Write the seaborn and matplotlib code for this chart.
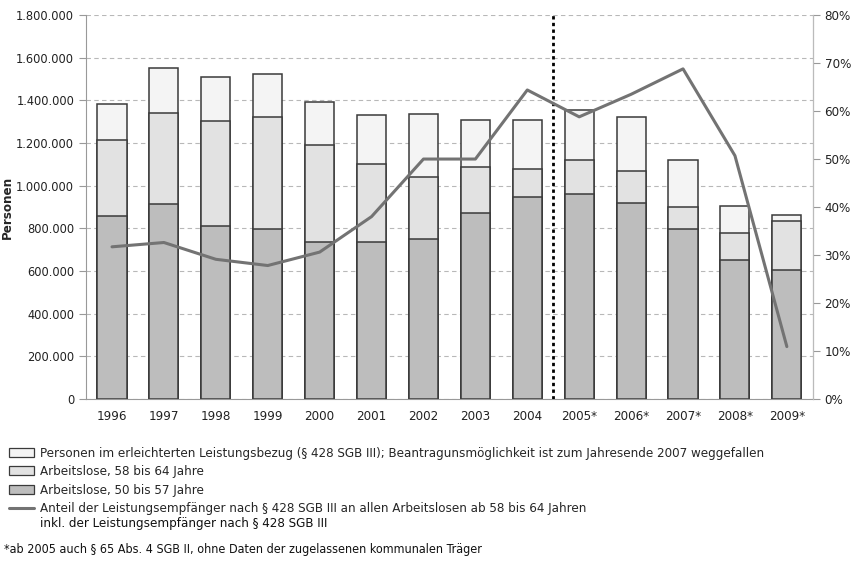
import numpy as np
import pandas as pd
import matplotlib
matplotlib.use("Agg")
import matplotlib.pyplot as plt
from matplotlib.patches import Patch
from matplotlib.lines import Line2D
from matplotlib.ticker import FuncFormatter, FixedLocator
import seaborn as sns

# data
years = ['1996', '1997', '1998', '1999', '2000', '2001', '2002', '2003', '2004',
         '2005*', '2006*', '2007*', '2008*', '2009*']
arbeitslose_50_57 = [859000, 912000, 809000, 796000, 737000, 735000, 749000,
                     870000, 949000, 959000, 921000, 795000, 651000, 606000]
arbeitslose_58_64 = [357000, 429000, 496000, 525000, 454000, 369000, 294000,
                     217000, 127000, 162000, 147000, 103000, 127000, 228000]
leistungsbezug_428 = [169000, 209000, 206000, 203000, 202000, 228000, 291000,
                      220000, 232000, 233000, 256000, 223000, 129000, 28000]
anteil_428 = [31.7, 32.6, 29.1, 27.8, 30.6, 38.0, 50.0, 50.0, 64.4, 58.8,
              63.5, 68.8, 50.7, 10.9]

labels = [
    'Personen im erleichterten Leistungsbezug (§ 428 SGB III); Beantragunsmöglichkeit ist zum Jahresende 2007 weggefallen',
    'Arbeitslose, 58 bis 64 Jahre',
    'Arbeitslose, 50 bis 57 Jahre',
    'Anteil der Leistungsempfänger nach § 428 SGB III an allen Arbeitslosen ab 58 bis 64 Jahren',
]
label_cont = 'inkl. der Leistungsempfänger nach § 428 SGB III'
footnote = '*ab 2005 auch § 65 Abs. 4 SGB II, ohne Daten der zugelassenen kommunalen Träger'

col_top = '#f4f4f4'
col_mid = '#e2e2e2'
col_bot = '#bdbdbd'
col_line = '#737373'
edge = '#3a3a3a'

sns.set_style('white')
plt.rcParams['font.family'] = ['DejaVu Sans']
plt.rcParams['font.stretch'] = 'condensed'
plt.rcParams['font.size'] = 9

df = pd.DataFrame({'year': years, 'bot': arbeitslose_50_57,
                   'mid': arbeitslose_58_64, 'top': leistungsbezug_428,
                   'anteil': anteil_428})
df['cum_mid'] = df['bot'] + df['mid']
df['cum_top'] = df['cum_mid'] + df['top']
df['pos'] = np.arange(len(df))

fig = plt.figure(figsize=(8.52, 5.61), dpi=100)
ax = fig.add_axes([0.101, 0.289, 0.853, 0.684])

# stacked bars drawn as overlapping cumulative bars
for col, c in [('cum_top', col_top), ('cum_mid', col_mid), ('bot', col_bot)]:
    sns.barplot(data=df, x='year', y=col, color=c, width=0.56, ax=ax,
                edgecolor=edge, linewidth=1.1, saturation=1)

ax.set_ylim(0, 1800000)
ax.set_xlim(-0.5, len(years) - 0.5)
ax.yaxis.set_major_locator(FixedLocator(np.arange(0, 1800001, 200000)))
ax.yaxis.set_major_formatter(FuncFormatter(lambda v, p: f'{int(v):,}'.replace(',', '.')))
ax.grid(axis='y', color='#b8b8b8', linestyle=(0, (4, 3)), linewidth=0.8)
ax.set_axisbelow(True)
ax.set_xlabel('')
ax.set_ylabel('Personen', fontweight='bold', fontsize=9.5)
ax.yaxis.set_label_coords(-0.1, 0.5)
ax.set_xticks(np.arange(len(years)))
ax.set_xticklabels(years)
ax.set_xticks(np.arange(-0.5, len(years)), minor=True)
ax.tick_params(axis='x', which='major', length=0, pad=8, labelsize=9.5, colors='#222222')
ax.tick_params(axis='x', which='minor', length=4, color='#999999', direction='out')
ax.tick_params(axis='y', length=5, color='#999999', labelsize=9.2, colors='#222222')
ax.spines['top'].set_visible(False)
for s in ['left', 'bottom', 'right']:
    ax.spines[s].set_color('#999999')

# dotted separator between 2004 and 2005
ax.axvline(8.5, color='black', linestyle=(0, (1.2, 1.2)), linewidth=2, zorder=5)

ax2 = ax.twinx()
sns.lineplot(x=df['pos'], y=df['anteil'], ax=ax2, color=col_line, linewidth=2.2)
ax2.set_ylim(0, 80)
ax2.set_yticks(np.arange(0, 81, 10))
ax2.yaxis.set_major_formatter(FuncFormatter(lambda v, p: f'{int(v)}%'))
ax2.set_ylabel('')
ax2.tick_params(axis='y', length=5, color='#999999', labelsize=9.5, colors='#222222')
ax2.spines['top'].set_visible(False)
ax2.spines['right'].set_color('#bbbbbb')
ax2.spines['left'].set_visible(False)
ax2.spines['bottom'].set_visible(False)

handles = [Patch(facecolor=col_top, edgecolor=edge, linewidth=0.9),
           Patch(facecolor=col_mid, edgecolor=edge, linewidth=0.9),
           Patch(facecolor=col_bot, edgecolor=edge, linewidth=0.9),
           Line2D([0], [0], color=col_line, linewidth=2.2)]
fig.legend(handles, labels, loc='upper left', bbox_to_anchor=(0.004, 0.213),
           frameon=False, fontsize=9.5, handlelength=1.9, handleheight=0.65,
           handletextpad=0.5, labelspacing=0.42, borderaxespad=0)
fig.text(0.047, 1 - 524 / 561, label_cont, fontsize=9.5, color='#111111', va='center')

fig.text(0.005, 1 - 549 / 561, footnote, fontsize=9, color='#111111', va='center')

fig.savefig('out.png', dpi=100)
